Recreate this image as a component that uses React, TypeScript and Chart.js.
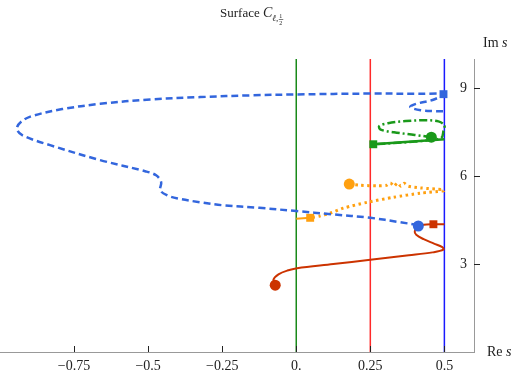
import React, { useEffect, useRef } from "react";
import { Chart, registerables } from "chart.js";

Chart.register(...registerables);

type P = [number, number];

const xTickValues = [-0.75, -0.5, -0.25, 0, 0.25, 0.5];
const xTickLabels = ["\u22120.75", "\u22120.5", "\u22120.25", "0.", "0.25", "0.5"];
const yTickValues = [3, 6, 9];
const yTickLabels = ["3", "6", "9"];

const verticalLines = [0, 0.25, 0.5];
const verticalColors = ["#1a8a1a", "#ff2a2a", "#1a1aff"];

const blueCurve: P[] = [
  [0.412, 4.33], [0.35, 4.43], [0.25, 4.58], [0.12, 4.70], [0, 4.81], [-0.125, 4.92],
  [-0.25, 5.01], [-0.324, 5.11], [-0.40, 5.24], [-0.436, 5.35], [-0.459, 5.52],
  [-0.456, 5.80], [-0.473, 6.03], [-0.51, 6.17], [-0.662, 6.55], [-0.831, 7.06],
  [-0.925, 7.40], [-0.943, 7.63], [-0.926, 7.88], [-0.89, 8.06], [-0.79, 8.29],
  [-0.662, 8.47], [-0.493, 8.62], [-0.324, 8.70], [-0.15, 8.76], [0, 8.79],
  [0.25, 8.82], [0.42, 8.81], [0.497, 8.80], [0.46, 8.60], [0.405, 8.47],
  [0.385, 8.36], [0.42, 8.25], [0.47, 8.22], [0.5, 8.22],
];

const greenCurve: P[] = [
  [0.456, 7.33], [0.40, 7.41], [0.33, 7.50], [0.285, 7.59], [0.28, 7.71],
  [0.31, 7.81], [0.37, 7.88], [0.43, 7.91], [0.48, 7.87], [0.50, 7.74],
  [0.497, 7.55], [0.49, 7.31], [0.456, 7.24], [0.40, 7.18], [0.33, 7.13], [0.26, 7.09],
];
const greenSolid: P[] = [[0.26, 7.09], [0.5, 7.26]];

const orangeCurve: P[] = [
  [0.179, 5.73], [0.216, 5.69], [0.274, 5.67], [0.305, 5.69], [0.318, 5.77],
  [0.33, 5.66], [0.342, 5.77], [0.353, 5.66], [0.364, 5.76], [0.378, 5.66],
  [0.419, 5.60], [0.497, 5.54], [0.497, 5.50], [0.419, 5.42], [0.328, 5.28],
  [0.24, 5.11], [0.159, 4.91], [0.115, 4.74], [0.08, 4.64], [0.047, 4.58],
];
const orangeSolid: P[] = [[0, 4.55], [0.047, 4.58]];

const redCurve: P[] = [
  [-0.071, 2.28], [-0.077, 2.47], [-0.06, 2.65], [-0.03, 2.78], [0.003, 2.86],
  [0.125, 3.0], [0.25, 3.15], [0.38, 3.30], [0.46, 3.40], [0.497, 3.49],
  [0.493, 3.58], [0.465, 3.70], [0.43, 3.85], [0.405, 4.0], [0.40, 4.12],
  [0.41, 4.25], [0.43, 4.34], [0.463, 4.36], [0.5, 4.36],
];

const circleMarkers: P[] = [[0.412, 4.30], [0.456, 7.33], [0.179, 5.73], [-0.071, 2.28]];
const squareMarkers: P[] = [[0.497, 8.80], [0.26, 7.09], [0.047, 4.58], [0.463, 4.36]];
const markerColors = ["#3366dd", "#1a991a", "#ffa010", "#cc3300"];

const BLUE = "#3366dd";
const GREEN = "#1a991a";
const ORANGE = "#ffa010";
const RED = "#cc3300";

const toPts = (a: P[]) => a.map(([x, y]) => ({ x, y }));

const overlayPlugin = {
  id: "overlay",
  afterDraw(chart: any) {
    const ctx = chart.ctx;
    const ca = chart.chartArea;
    const xs = chart.scales.x;
    const ys = chart.scales.y;
    ctx.save();
    ctx.strokeStyle = "#222";
    ctx.lineWidth = 1;
    ctx.setLineDash([]);
    xTickValues.forEach((v) => {
      const px = Math.round(xs.getPixelForValue(v)) + 0.5;
      ctx.beginPath();
      ctx.moveTo(px, ca.bottom);
      ctx.lineTo(px, ca.bottom - 6);
      ctx.stroke();
    });
    yTickValues.forEach((v) => {
      const py = Math.round(ys.getPixelForValue(v)) + 0.5;
      ctx.beginPath();
      ctx.moveTo(ca.right, py);
      ctx.lineTo(ca.right + 6, py);
      ctx.stroke();
    });
    ctx.fillStyle = "#222";
    ctx.textBaseline = "alphabetic";
    let x = 220;
    ctx.font = '13px "Liberation Serif"';
    ctx.fillText("Surface ", x, 17);
    x += ctx.measureText("Surface ").width;
    ctx.font = 'italic 14px "Liberation Serif"';
    ctx.fillText("C", x, 17);
    x += ctx.measureText("C").width;
    ctx.font = 'italic 9px "Liberation Serif"';
    ctx.fillText("\u2113,", x, 21);
    x += ctx.measureText("\u2113,").width + 1;
    ctx.font = '6px "Liberation Serif"';
    ctx.fillText("1", x, 18);
    ctx.fillText("2", x, 25);
    ctx.beginPath();
    ctx.moveTo(x - 0.5, 19.5);
    ctx.lineTo(x + 4, 19.5);
    ctx.lineWidth = 0.6;
    ctx.stroke();
    const label = (txt: string, it: string, lx: number, ly: number) => {
      ctx.font = '14px "Liberation Serif"';
      ctx.fillText(txt, lx, ly);
      const w = ctx.measureText(txt).width;
      ctx.font = 'italic 14px "Liberation Serif"';
      ctx.fillText(it, lx + w, ly);
    };
    label("Im ", "s", ca.right + 9, 47);
    label("Re ", "s", ca.right + 13, ca.bottom + 4);
    ctx.restore();
  },
};

export default function App() {
  const ref = useRef<HTMLCanvasElement | null>(null);
  useEffect(() => {
    if (!ref.current) return;
    const markerSets = [
      {
        data: toPts(circleMarkers),
        pointStyle: "circle",
        pointRadius: 5.5,
        pointBackgroundColor: markerColors,
        pointBorderWidth: 0,
        showLine: false,
      },
      {
        data: toPts(squareMarkers),
        pointStyle: "rect",
        pointRadius: 5.6,
        pointBackgroundColor: markerColors,
        pointBorderWidth: 0,
        showLine: false,
      },
    ];
    const line = (d: P[], color: string, width: number, dash: number[], tension = 0.35) => ({
      data: toPts(d),
      showLine: true,
      borderColor: color,
      borderWidth: width,
      borderDash: dash,
      pointRadius: 0,
      tension,
      borderCapStyle: "butt",
      fill: false,
    });
    const verticalSets = verticalLines.map((v, i) => ({
      data: [{ x: v, y: 0 }, { x: v, y: 10 }],
      showLine: true,
      borderColor: verticalColors[i],
      borderWidth: 1.5,
      pointRadius: 0,
      fill: false,
    }));
    const chart = new Chart(ref.current, {
      type: "scatter",
      data: {
        datasets: [
          ...markerSets,
          line(blueCurve, BLUE, 2.5, [7, 4]),
          line(greenCurve, GREEN, 2.5, [8, 3, 2, 3]),
          line(greenSolid, GREEN, 2.5, [], 0),
          line(orangeCurve, ORANGE, 3, [2.5, 3.5], 0.25),
          line(orangeSolid, ORANGE, 2, [], 0),
          line(redCurve, RED, 2, [], 0.35),
          ...verticalSets,
        ] as any,
      },
      options: {
        responsive: false,
        animation: false,
        devicePixelRatio: 1,
        layout: { autoPadding: false, padding: { top: 59, left: 0, right: 0, bottom: 0 } },
        plugins: { legend: { display: false }, tooltip: { enabled: false }, title: { display: false } },
        scales: {
          x: {
            type: "linear",
            position: "bottom",
            min: -1,
            max: 0.6,
            afterBuildTicks: (axis: any) => {
              axis.ticks = xTickValues.map((value) => ({ value }));
            },
            afterFit: (s: any) => {
              s.height = 26;
            },
            ticks: {
              autoSkip: false,
              maxRotation: 0,
              padding: 6,
              color: "#222",
              font: { family: "Liberation Serif", size: 14 },
              callback: (_v: any, i: number) => xTickLabels[i],
            },
            grid: { display: false, drawTicks: false },
            border: { display: true, color: "#999", width: 1 },
          },
          y: {
            type: "linear",
            position: "right",
            min: 0,
            max: 10,
            afterBuildTicks: (axis: any) => {
              axis.ticks = yTickValues.map((value) => ({ value }));
            },
            afterFit: (s: any) => {
              s.width = 39;
            },
            ticks: {
              mirror: true,
              padding: -7,
              color: "#222",
              font: { family: "Liberation Serif", size: 14 },
              callback: (_v: any, i: number) => yTickLabels[i],
            },
            grid: { drawOnChartArea: false, drawTicks: true, tickLength: 5, color: "#333" },
            border: { display: true, color: "#999", width: 1 },
          },
        },
      } as any,
      plugins: [overlayPlugin],
    });
    return () => chart.destroy();
  }, []);
  return (
    <div style={{ position: "fixed", left: 0, top: 0, width: 513, height: 378, background: "#fff" }}>
      <canvas ref={ref} width={513} height={378} style={{ width: 513, height: 378 }} />
    </div>
  );
}
